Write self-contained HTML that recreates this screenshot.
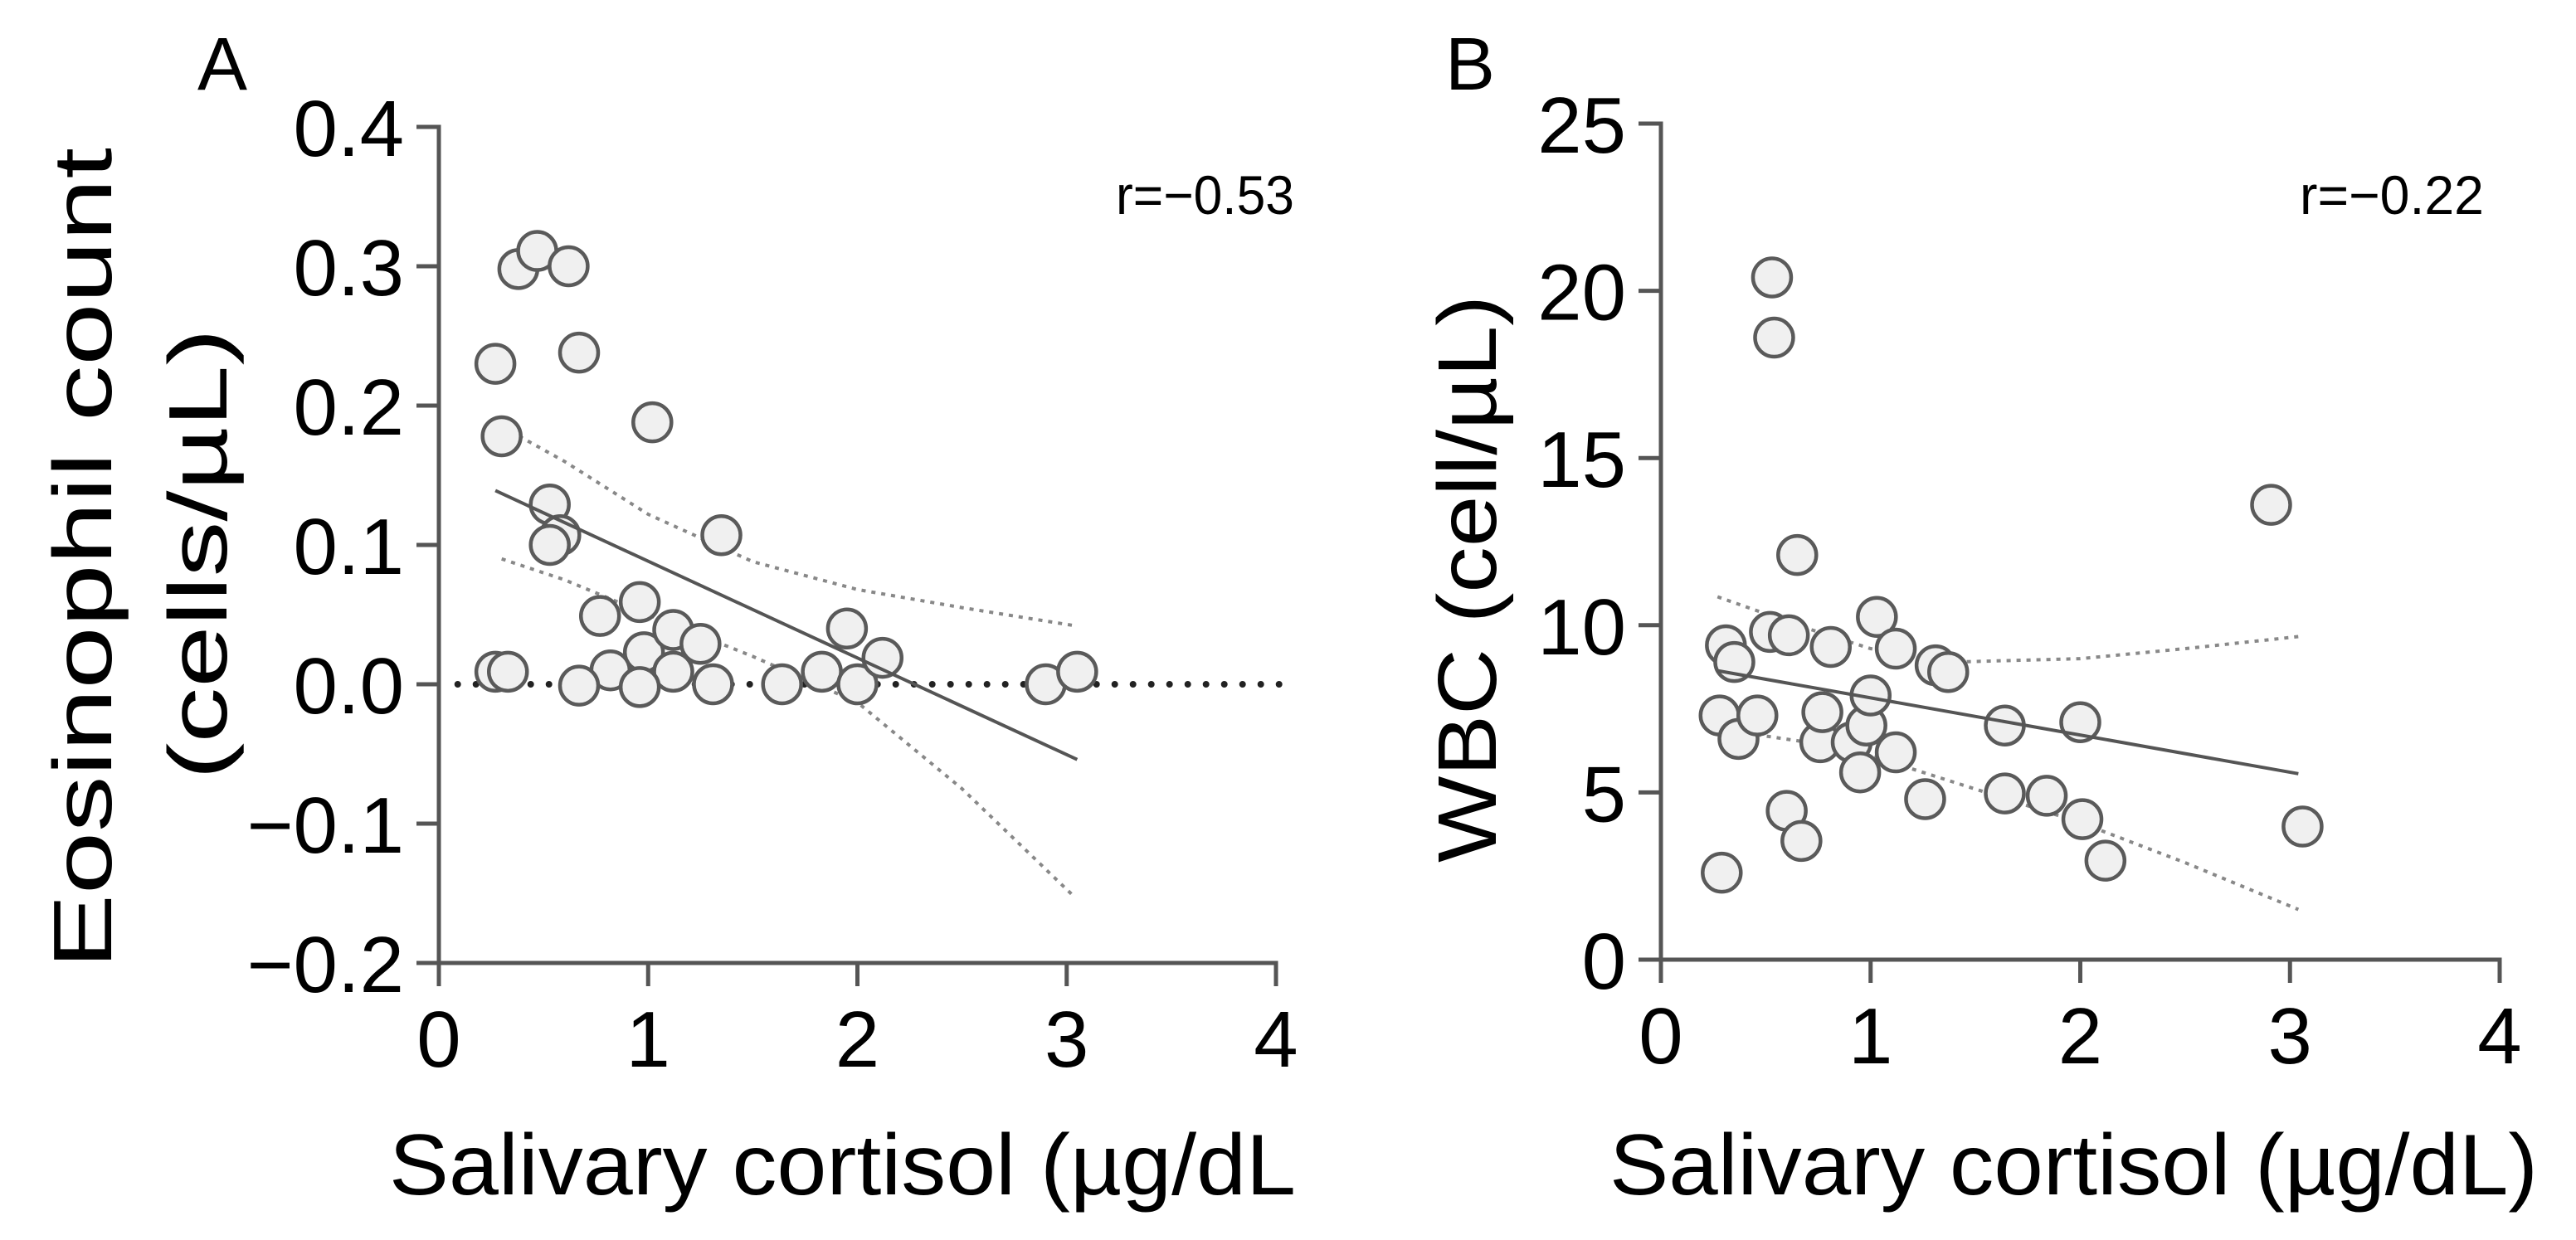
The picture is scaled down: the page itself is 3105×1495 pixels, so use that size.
<!DOCTYPE html>
<html><head><meta charset="utf-8"><style>
html,body{margin:0;padding:0;background:#fff}
svg{display:block}
text{font-family:"Liberation Sans",sans-serif;fill:#000}
</style></head><body>
<svg id="fig" width="3105" height="1495" viewBox="0 0 3105 1495" xmlns="http://www.w3.org/2000/svg">
<g id="pA"></g>
<g id="pB"></g>
</svg>
<script>
// Panel A data
const aX = [0.27,0.30,0.38,0.47,0.62,0.67,1.02,0.53,0.58,0.53,1.35,0.77,0.96,0.98,1.12,1.25,1.12,0.82,0.27,0.33,0.67,0.96,1.31,1.64,1.83,1.95,2.00,2.12,2.90,3.05];
const aY = [0.23,0.178,0.298,0.311,0.30,0.238,0.188,0.129,0.107,0.10,0.107,0.049,0.059,0.023,0.039,0.029,0.009,0.01,0.009,0.009,-0.001,-0.002,0,0,0.009,0.04,0,0.019,0,0.009];
const aFitX = [0.27,3.05];
const aFitY = [0.139,-0.054];
const aCiX = [0.3,0.6,1.0,1.5,2.0,2.5,3.04];
const aUpY = [0.185,0.16,0.122,0.088,0.068,0.055,0.042];
const aLoY = [0.09,0.075,0.05,0.02,-0.013,-0.075,-0.153];
const aYTicks = [0.4,0.3,0.2,0.1,0.0,-0.1,-0.2];
const aYTickLabels = ["0.4","0.3","0.2","0.1","0.0","\u22120.1","\u22120.2"];
// Panel B data
const bX = [0.29,0.28,0.31,0.35,0.37,0.46,0.52,0.53,0.54,0.61,0.60,0.65,0.67,0.76,0.77,0.81,0.91,0.95,0.98,1.0,1.03,1.12,1.12,1.26,1.31,1.37,1.64,1.64,1.84,2.0,2.01,2.12,2.91,3.06];
const bY = [2.6,7.3,9.4,8.9,6.6,7.3,9.8,20.4,18.6,9.7,4.45,12.1,3.55,6.5,7.4,9.35,6.5,5.6,7.0,7.9,10.25,6.2,9.3,4.8,8.8,8.6,7.0,4.97,4.9,7.1,4.2,2.96,13.6,3.98];
const bFitX = [0.27,3.04];
const bFitY = [8.64,5.56];
const bCiX = [0.27,0.7,1.0,1.4,2.0,2.5,3.04];
const bUpY = [10.85,9.9,9.3,8.9,9.0,9.3,9.66];
const bLoY = [6.9,6.5,6.1,5.3,4.1,2.9,1.5];
const bYTicks = [0,5,10,15,20,25];
const bYTickLabels = ["0","5","10","15","20","25"];
const xTicks = [0,1,2,3,4];
const xTickLabels = ["0","1","2","3","4"];

const NS="http://www.w3.org/2000/svg";
function mk(parent,tag,attrs,txt){const e=document.createElementNS(NS,tag);for(const k in attrs)e.setAttribute(k,attrs[k]);if(txt!==undefined)e.textContent=txt;parent.appendChild(e);return e;}

function panel(g,cfg){
  const sx=v=>cfg.x0+(v-cfg.xmin)/(cfg.xmax-cfg.xmin)*(cfg.x1-cfg.x0);
  const sy=v=>cfg.yb+(v-cfg.ymin)/(cfg.ymax-cfg.ymin)*(cfg.yt-cfg.yb);
  let ax=mk(g,'path',{d:`M${cfg.x0-27} ${cfg.yt}H${cfg.x0}V${cfg.yb}H${cfg.x1}V${cfg.yb+28}`,fill:'none',stroke:'#555','stroke-width':5});
  
  
  cfg.yTicks.forEach((t,i)=>{
    const y=sy(t);
    const tk=mk(g,'line',{x1:cfg.x0-27,x2:cfg.x0,y1:y,y2:y,stroke:'#555','stroke-width':5});
    
    
    const tl=mk(g,'text',{x:cfg.x0-42,y:y+35,'text-anchor':'end','font-size':96},cfg.yLabels[i]);
    
    
  });
  xTicks.forEach((t,i)=>{
    const x=sx(t);
    const tk=mk(g,'line',{x1:x,x2:x,y1:cfg.yb,y2:cfg.yb+28,stroke:'#555','stroke-width':5});
    
    
    const tl=mk(g,'text',{x:x,y:cfg.yb+125,'text-anchor':'middle','font-size':96},xTickLabels[i]);
    
    
  });
  if(cfg.zero){
    const z=mk(g,'line',{x1:sx(0.09),x2:cfg.x1+5,y1:sy(0),y2:sy(0),stroke:'#222','stroke-width':8,'stroke-linecap':'round','stroke-dasharray':'0 22'});
    
    
  }
  [cfg.up,cfg.lo].forEach((arr,j)=>{
    const d=cfg.ciX.map((v,i)=>(i?'L':'M')+sx(v)+' '+sy(arr[i])).join('');
    const p=mk(g,'path',{d:d,fill:'none',stroke:'#888','stroke-width':4,'stroke-dasharray':'5 7'});
    
    
  });
  cfg.px.forEach((v,i)=>{
    const c=mk(g,'circle',{cx:sx(v),cy:sy(cfg.py[i]),r:23,fill:'#f0f0f0',stroke:'#5a5a5a','stroke-width':4.5});
    
    
  });
  const f=mk(g,'line',{x1:sx(cfg.fx[0]),y1:sy(cfg.fy[0]),x2:sx(cfg.fx[1]),y2:sy(cfg.fy[1]),stroke:'#555','stroke-width':4});
  
  
}

panel(document.getElementById('pA'),{x0:529,x1:1538,yt:153,yb:1161,xmin:0,xmax:4,ymin:-0.2,ymax:0.4,
  yTicks:aYTicks,yLabels:aYTickLabels,px:aX,py:aY,fx:aFitX,fy:aFitY,ciX:aCiX,up:aUpY,lo:aLoY,zero:true});
panel(document.getElementById('pB'),{x0:2002,x1:3013,yt:149,yb:1157,xmin:0,xmax:4,ymin:0,ymax:25,
  yTicks:bYTicks,yLabels:bYTickLabels,px:bX,py:bY,fx:bFitX,fy:bFitY,ciX:bCiX,up:bUpY,lo:bLoY,zero:false});
</script>
<script>
(function(){
const svg=document.getElementById('fig');
const NS="http://www.w3.org/2000/svg";
function t(attrs,txt,name){const e=document.createElementNS(NS,'text');for(const k in attrs)e.setAttribute(k,attrs[k]);e.textContent=txt;svg.appendChild(e);


return e;}
t({x:238,y:108,'font-size':90},'A','panel-label-a');
t({x:1742,y:108,'font-size':90},'B','panel-label-b');
t({x:1345,y:258,'font-size':66,textLength:215,lengthAdjust:'spacingAndGlyphs'},'r=\u22120.53','correlation-a');
t({x:2772,y:258,'font-size':66,textLength:222,lengthAdjust:'spacingAndGlyphs'},'r=\u22120.22','correlation-b');
t({x:469,y:1440,'font-size':104,textLength:1093,lengthAdjust:'spacingAndGlyphs'},'Salivary cortisol (\u00b5g/dL','x-axis-title-a');
t({x:1940,y:1440,'font-size':104,textLength:1119,lengthAdjust:'spacingAndGlyphs'},'Salivary cortisol (\u00b5g/dL)','x-axis-title-b');
t({x:0,y:0,'font-size':100,'text-anchor':'middle',transform:'translate(134,673) rotate(-90)',textLength:990,lengthAdjust:'spacingAndGlyphs'},'Eosinophil count','y-axis-title-a-line1');
t({x:0,y:0,'font-size':100,'text-anchor':'middle',transform:'translate(273,668) rotate(-90)',textLength:544,lengthAdjust:'spacingAndGlyphs'},'(cells/\u00b5L)','y-axis-title-a-line2');
t({x:0,y:0,'font-size':100,'text-anchor':'middle',transform:'translate(1803,698) rotate(-90)',textLength:684,lengthAdjust:'spacingAndGlyphs'},'WBC (cell/\u00b5L)','y-axis-title-b');
})();
</script>
</body></html>
